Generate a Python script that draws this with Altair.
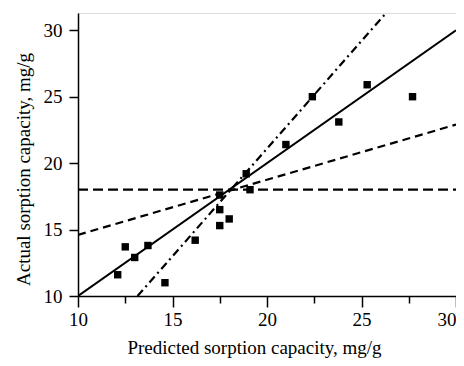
import altair as alt
import pandas as pd

# Scatter data (predicted, actual)
pred = [12.1, 12.5, 13.0, 13.7, 14.6, 16.2, 17.5, 17.5, 17.5, 18.0, 18.9, 19.1, 21.0, 22.4, 23.8, 25.3, 27.7]
actual = [11.6, 13.7, 12.9, 13.8, 11.0, 14.2, 17.6, 16.5, 15.3, 15.8, 19.2, 18.0, 21.4, 25.0, 23.1, 25.9, 25.0]

# Reference lines
line_solid_x = [10, 30]
line_solid_y = [10, 30]
line_steep_x = [13.15, 26.3]
line_steep_y = [10, 31.3]
line_shallow_x = [10, 30]
line_shallow_y = [14.6, 22.9]
line_flat_x = [10, 30]
line_flat_y = [18, 18]

all_ticks = [10, 12.5, 15, 17.5, 20, 22.5, 25, 27.5, 30]

FONT = "Liberation Serif"

xscale = alt.Scale(domain=[10, 30], nice=False, zero=False)
yscale = alt.Scale(domain=[10, 31.3], nice=False, zero=False)

MINOR = "datum.value % 5 !== 0"

common = dict(grid=False, domainColor="black", tickWidth=1.5, domainWidth=1.5,
              labelFont=FONT, labelFontSize=19, labelColor="black", labelFlush=False,
              labelExpr="datum.value % 5 === 0 ? datum.label : ''",
              tickColor="black")

xaxis = alt.Axis(
    values=all_ticks,
    title="Predicted sorption capacity, mg/g",
    tickSize={"condition": {"test": MINOR, "value": 7}, "value": 11},
    labelPadding=3,
    labelAlign={"condition": {"test": "datum.value === 30", "value": "right"}, "value": "center"},
    titleFont=FONT, titleFontSize=19, titleFontWeight="normal", titleColor="black",
    titleX=176, titleY=57, titleAlign="center", titleBaseline="alphabetic",
    **common,
)
yaxis = alt.Axis(
    values=all_ticks,
    title="Actual sorption capacity, mg/g",
    tickSize={"condition": {"test": MINOR, "value": 6}, "value": 9},
    labelPadding=7,
    titleFont=FONT, titleFontSize=19, titleFontWeight="normal", titleColor="black",
    titleX=-55, titleY=156, titleAlign="center", titleBaseline="middle", titleAngle=-90,
    **common,
)

pts = pd.DataFrame({"x": pred, "y": actual})

def line_df(xs, ys):
    return pd.DataFrame({"x": xs, "y": ys})

base_pts = alt.Chart(pts).mark_square(filled=True, color="black", size=55, opacity=1).encode(
    x=alt.X("x:Q", scale=xscale, axis=xaxis),
    y=alt.Y("y:Q", scale=yscale, axis=yaxis),
)

def ln(xs, ys, dash, width):
    kw = dict(color="black", strokeWidth=width, clip=True)
    if dash:
        kw["strokeDash"] = dash
    return alt.Chart(line_df(xs, ys)).mark_line(**kw).encode(
        x=alt.X("x:Q", scale=xscale),
        y=alt.Y("y:Q", scale=yscale),
    )

chart = alt.layer(
    base_pts,
    ln(line_solid_x, line_solid_y, None, 2),
    ln(line_steep_x, line_steep_y, [8, 4, 2, 4], 2.2),
    ln(line_shallow_x, line_shallow_y, [8, 5], 2.2),
    ln(line_flat_x, line_flat_y, [10, 5], 2.2),
).properties(
    width=378, height=283,
    autosize=alt.AutoSizeParams(type="none"),
    padding={"left": 70, "top": 5, "right": 0, "bottom": 62},
).configure_view(stroke="black", strokeWidth=1.5).configure(background="white")

chart.save("out.html", embed_options={"renderer": "svg", "actions": False})
